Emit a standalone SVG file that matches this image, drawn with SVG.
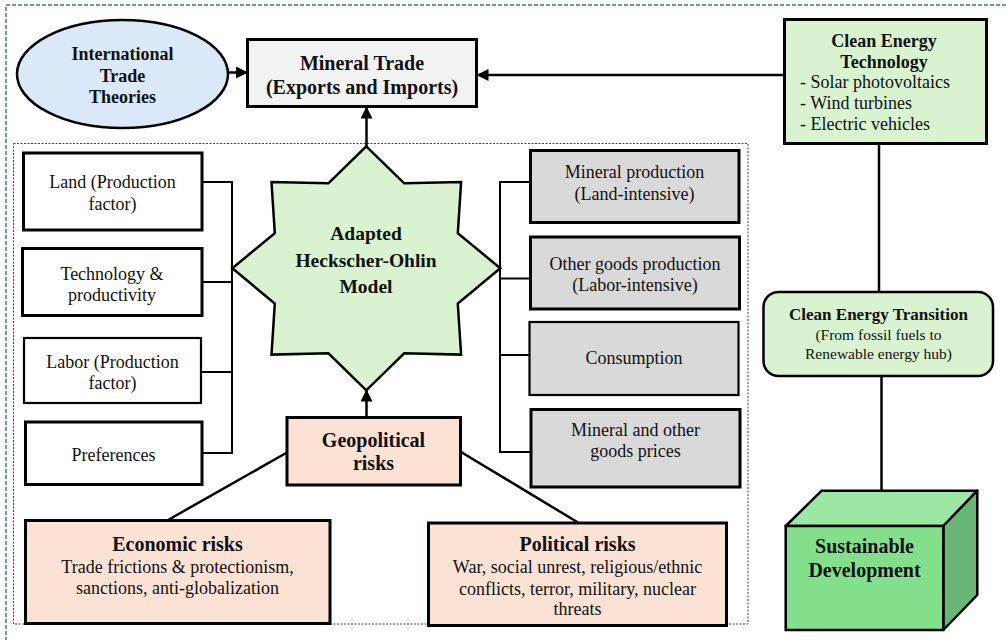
<svg xmlns="http://www.w3.org/2000/svg" width="1006" height="640" viewBox="0 0 1006 640">
<style>
text{font-family:"Liberation Serif","Times New Roman",serif;fill:#111;}
.b{font-weight:bold;}
.c{text-anchor:middle;}
.r18{font-size:18px;}
.con{stroke:#000;stroke-width:2.5;fill:none;}
.thin{stroke:#000;stroke-width:2;fill:none;}
.box{stroke:#000;stroke-width:3;}
.box2{stroke:#000;stroke-width:2.2;}
</style>
<defs>
<marker id="ah" viewBox="0 0 12 12" refX="11" refY="6" markerWidth="12" markerHeight="12" markerUnits="userSpaceOnUse" orient="auto">
<path d="M0,0 L12,6 L0,12 z" fill="#000"/>
</marker>
</defs>
<rect x="6" y="5" width="1020" height="660" fill="none" stroke="#41719c" stroke-width="1.5" stroke-dasharray="4 2"/>
<rect x="13.5" y="143.5" width="734.5" height="480.5" fill="none" stroke="#444" stroke-width="1" stroke-dasharray="2 1.5"/>

<g id="connectors">
<line class="con" x1="228" y1="72.5" x2="247" y2="72.5" marker-end="url(#ah)"/>
<line class="con" x1="784" y1="75" x2="477.5" y2="75" marker-end="url(#ah)"/>
<line class="con" x1="366.5" y1="146" x2="366.5" y2="107.5" marker-end="url(#ah)"/>
<line class="con" x1="366.5" y1="417" x2="366.5" y2="390.5" marker-end="url(#ah)"/>
<polyline class="thin" points="202,182 232,182 232,453 202,453"/>
<line class="thin" x1="202" y1="282" x2="232" y2="282"/>
<line class="thin" x1="201" y1="372" x2="232" y2="372"/>
<polyline class="thin" points="530,182 500,182 500,452 531,452"/>
<line class="thin" x1="500" y1="278.5" x2="530" y2="278.5"/>
<line class="thin" x1="500" y1="355" x2="529" y2="355"/>
<line class="con" x1="287" y1="452.5" x2="168" y2="520"/>
<line class="con" x1="461" y1="452" x2="578" y2="522.5"/>
<line class="con" x1="879" y1="144" x2="879" y2="292"/>
<line class="con" x1="881.5" y1="376" x2="881.5" y2="491"/>
</g>

<g id="trade-theories">
<ellipse cx="122.5" cy="74" rx="105.5" ry="54" fill="#dae8f8" stroke="#000" stroke-width="2.5"/>
<text class="b c" font-size="18" x="122.5" y="60">International</text>
<text class="b c" font-size="18" x="122.5" y="82">Trade</text>
<text class="b c" font-size="18" x="122.5" y="103">Theories</text>
</g>

<g id="mineral-trade">
<rect class="box" x="247.5" y="39.5" width="229" height="67" fill="#f2f2f2"/>
<text class="b c" font-size="20" x="362" y="70">Mineral Trade</text>
<text class="b c" font-size="20" x="362" y="94">(Exports and Imports)</text>
</g>

<g id="clean-energy-tech">
<rect class="box" x="784.5" y="19.5" width="202" height="124" fill="#d9f2d0"/>
<text class="b c" font-size="18" x="884" y="47">Clean Energy</text>
<text class="b c" font-size="18" x="884" y="68">Technology</text>
<text class="r18" x="800" y="88">- Solar photovoltaics</text>
<text class="r18" x="800" y="108.5">- Wind turbines</text>
<text class="r18" x="800" y="129.5">- Electric vehicles</text>
</g>

<g id="hecksher-ohlin">
<polygon points="366.3,146.3 404.2,183.3 461.1,182 457.8,233.1 500.3,268.3 457.8,303.5 461.1,354.6 404.2,353.3 366.3,390.3 328.4,353.3 271.5,354.6 274.8,303.5 232.3,268.3 274.8,233.1 271.5,182 328.4,183.3" fill="#d9f2d0" stroke="#000" stroke-width="2.5" stroke-linejoin="miter"/>
<text class="b c" font-size="19.5" x="366" y="240">Adapted</text>
<text class="b c" font-size="19.5" x="366" y="266.5">Heckscher-Ohlin</text>
<text class="b c" font-size="19.5" x="366" y="293">Model</text>
</g>

<g id="land">
<rect class="box" x="23.5" y="153" width="178.5" height="77" fill="#fff"/>
<text class="c r18" x="112.5" y="188">Land (Production</text>
<text class="c r18" x="112.5" y="209.5">factor)</text>
</g>
<g id="technology">
<rect class="box" x="22.5" y="248.5" width="179.5" height="67" fill="#fff"/>
<text class="c r18" x="112" y="279.5">Technology &amp;</text>
<text class="c r18" x="112" y="301">productivity</text>
</g>
<g id="labor">
<rect class="box2" x="24" y="338" width="177" height="65" fill="#fff"/>
<text class="c r18" x="112.5" y="368">Labor (Production</text>
<text class="c r18" x="112.5" y="389">factor)</text>
</g>
<g id="preferences">
<rect class="box" x="25.5" y="422" width="176.5" height="62.5" fill="#fff"/>
<text class="c r18" x="113.5" y="461">Preferences</text>
</g>

<g id="mineral-production">
<rect class="box" x="530.5" y="150.5" width="208.5" height="72" fill="#d9d9d9"/>
<text class="c r18" x="634.5" y="178">Mineral production</text>
<text class="c r18" x="634.5" y="199.5">(Land-intensive)</text>
</g>
<g id="other-goods">
<rect class="box" x="530.5" y="237" width="209" height="72" fill="#d9d9d9"/>
<text class="c r18" x="635" y="269.5">Other goods production</text>
<text class="c r18" x="635" y="291">(Labor-intensive)</text>
</g>
<g id="consumption">
<rect class="box2" x="529.5" y="322" width="209" height="73" fill="#d9d9d9"/>
<text class="c r18" x="634" y="364">Consumption</text>
</g>
<g id="prices">
<rect class="box" x="531" y="409.5" width="209" height="77.5" fill="#d9d9d9"/>
<text class="c r18" x="635.5" y="436">Mineral and other</text>
<text class="c r18" x="635.5" y="457">goods prices</text>
</g>

<g id="geopolitical">
<rect class="box" x="287" y="417.5" width="173.5" height="67.5" fill="#fbe2d5"/>
<text class="b c" font-size="20" x="373.5" y="447">Geopolitical</text>
<text class="b c" font-size="20" x="373.5" y="470">risks</text>
</g>

<g id="economic-risks">
<rect class="box" x="25.5" y="520.5" width="304.5" height="103" fill="#fbe2d5"/>
<text class="b c" font-size="20" x="177.5" y="551">Economic risks</text>
<text class="c r18" x="177.5" y="573">Trade frictions &amp; protectionism,</text>
<text class="c r18" x="177.5" y="594">sanctions, anti-globalization</text>
</g>

<g id="political-risks">
<rect class="box" x="428.5" y="523" width="298" height="102.5" fill="#fbe2d5"/>
<text class="b c" font-size="20" x="577.5" y="551">Political risks</text>
<text class="c r18" x="577.5" y="573">War, social unrest, religious/ethnic</text>
<text class="c r18" x="577.5" y="594.5">conflicts, terror, military, nuclear</text>
<text class="c r18" x="577.5" y="614.5">threats</text>
</g>

<g id="clean-energy-transition">
<rect x="763.5" y="292" width="229.5" height="84" rx="15" ry="15" fill="#d9f2d0" stroke="#000" stroke-width="2.5"/>
<text class="b c" font-size="17" x="878.5" y="320">Clean Energy Transition</text>
<text class="c" font-size="15.5" x="878.5" y="339.5">(From fossil fuels to</text>
<text class="c" font-size="15.5" x="878.5" y="358.5">Renewable energy hub)</text>
</g>

<g id="sustainable-development">
<polygon points="785.7,526 821.7,490.7 977.3,490.7 943.3,526" fill="#9de7a5" stroke="#000" stroke-width="2.5" stroke-linejoin="round"/>
<polygon points="943.3,526 977.3,490.7 977.3,595 943.3,630" fill="#69b777" stroke="#000" stroke-width="2.5" stroke-linejoin="round"/>
<rect x="785.7" y="526" width="157.6" height="104" fill="#84df8d" stroke="#000" stroke-width="2.5"/>
<text class="b c" font-size="20" x="864.5" y="553">Sustainable</text>
<text class="b c" font-size="20" x="864.5" y="577">Development</text>
</g>
</svg>
